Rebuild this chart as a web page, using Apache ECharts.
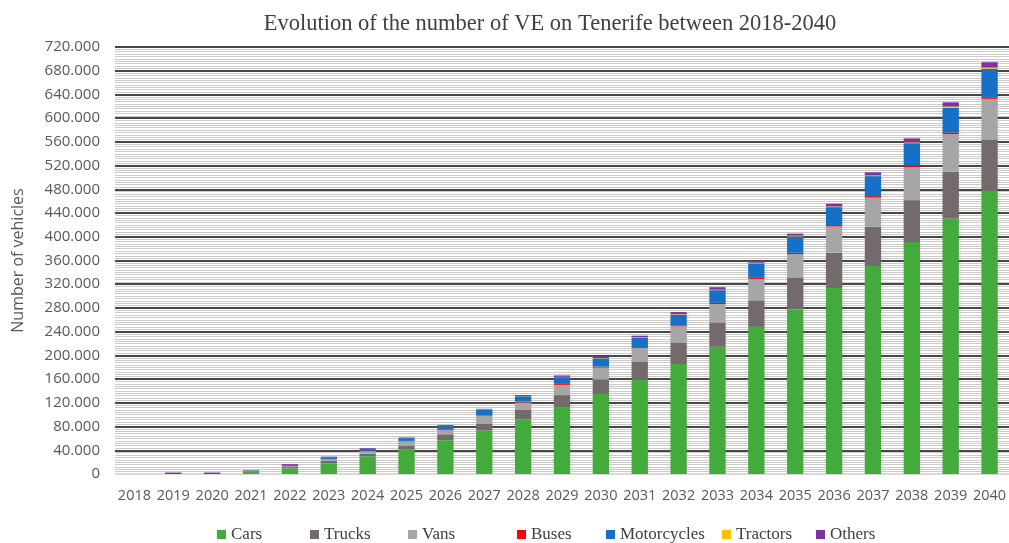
<!DOCTYPE html>
<html>
<head>
<meta charset="utf-8">
<script src="https://cdn.jsdelivr.net/npm/echarts@6/dist/echarts.min.js"></script>
<style>
  html, body { margin: 0; padding: 0; background: #fff; }
  .main { width: 1009px; height: 543px; }
</style>
</head>
<body>
<div class="main"></div>
<script>
let chartDom = document.querySelector('.main');
let myChart = echarts.init(chartDom);

// years on the x axis
let years = ['2018', '2019', '2020', '2021', '2022', '2023', '2024', '2025', '2026', '2027', '2028',
    '2029', '2030', '2031', '2032', '2033', '2034', '2035', '2036', '2037', '2038', '2039', '2040'];

// values, in vehicles
let cars = [0, 0, 0, 4500, 9500, 18000, 30000, 42000, 57000, 73000, 92000, 112000, 135000, 158500,
    185500, 214600, 248000, 278000, 313600, 350700, 391000, 431000, 476000];
let trucks = [0, 0, 0, 500, 2200, 4000, 4400, 5800, 10000, 12400, 16900, 21000, 24000, 31400,
    36400, 41000, 44900, 53300, 59500, 66000, 70800, 79000, 88000];
let vans = [0, 0, 0, 500, 1800, 3000, 4200, 7500, 6700, 12400, 11800, 17400, 20500, 22600,
    27000, 31000, 36000, 39500, 44300, 49400, 56000, 63000, 68600];
let buses = [0, 0, 0, 50, 100, 200, 300, 500, 1500, 800, 1500, 1500, 1500, 1500,
    1800, 2000, 2000, 2200, 2300, 2500, 2500, 2700, 2700];
let motorcycles = [0, 0, 0, 400, 1800, 3000, 3500, 4500, 5600, 10000, 9000, 11500, 14000, 16000,
    18000, 21400, 24300, 27600, 30300, 33700, 37600, 42000, 48000];
let tractors = [0, 0, 0, 0, 50, 100, 100, 100, 200, 300, 400, 500, 600, 700,
    800, 1000, 1000, 1200, 1200, 1300, 1500, 2000, 2000];
let others = [0, 2500, 2500, 800, 1400, 1000, 1200, 1200, 1500, 1000, 1500, 2300, 2800, 2500,
    3500, 4000, 3000, 3500, 4500, 5000, 6500, 7000, 9000];

let names = ['Cars', 'Trucks', 'Vans', 'Buses', 'Motorcycles', 'Tractors', 'Others'];
let values = [cars, trucks, vans, buses, motorcycles, tractors, others];
let colors = ['#42ab3b', '#736b6b', '#a6a6a6', '#ff0000', '#1570c8', '#ffc000', '#7f2fa0'];
let legendX = [212, 305, 403, 512, 601, 717, 811];

// "720.000" style numbers
function fmt(v) {
    return String(v).replace(/\B(?=(\d{3})+(?!\d))/g, '.');
}

let gridColors = ['#d9d9d9'];
for (let i = 1; i < 19; i++) gridColors.push('#474747');

let series = names.map((n, i) => ({
    name: n,
    type: 'bar',
    stack: 'all',
    barWidth: '42%',
    itemStyle: { color: colors[i] },
    data: values[i]
}));

let legends = names.map((n, i) => ({
    data: [n],
    left: legendX[i],
    top: 521,
    icon: 'rect',
    itemWidth: 9,
    itemHeight: 9,
    textStyle: { fontFamily: 'Liberation Serif', fontSize: 17, color: '#404040' }
}));

let option = {
    backgroundColor: '#fff',
    animation: false,
    title: {
        text: 'Evolution of the number of VE on Tenerife between 2018-2040',
        left: 545,
        textAlign: 'center',
        top: 8,
        textStyle: { fontFamily: 'Liberation Serif', fontSize: 22.5, fontWeight: 'normal', color: '#404040' }
    },
    legend: legends,
    grid: { left: 115, top: 47, width: 901.6, height: 427 },
    xAxis: {
        type: 'category',
        data: years,
        axisTick: { show: false },
        axisLine: { lineStyle: { color: '#d9d9d9' } },
        axisLabel: { interval: 0, hideOverlap: false, margin: 14, fontFamily: 'Open Sans', fontSize: 14.5, color: '#595959' }
    },
    yAxis: {
        type: 'value',
        min: 0,
        max: 720000,
        interval: 40000,
        name: 'Number of vehicles',
        nameLocation: 'middle',
        nameGap: 89,
        nameTextStyle: { fontFamily: 'Open Sans', fontSize: 16, color: '#595959' },
        axisLabel: { margin: 15, fontFamily: 'Open Sans', fontSize: 15, color: '#595959', formatter: fmt },
        splitLine: { lineStyle: { color: gridColors, width: 2 } },
        minorTick: { show: false, splitNumber: 10 },
        minorSplitLine: { show: true, lineStyle: { color: '#cdcaca', width: 1 } }
    },
    series: series
};

myChart.setOption(option);
</script>
</body>
</html>
